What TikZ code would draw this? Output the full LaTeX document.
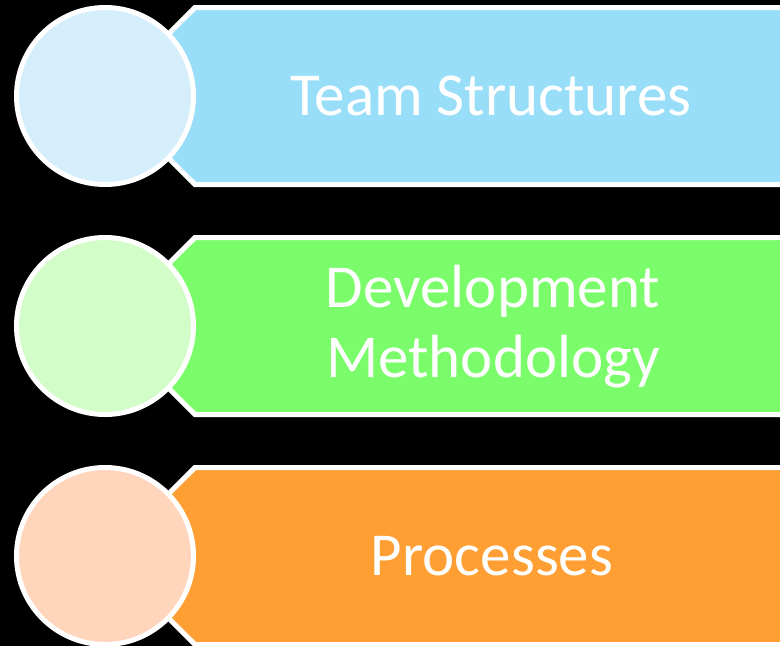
\documentclass[tikz,border=0pt]{standalone}
\usepackage{fontspec}
\setmainfont{Carlito}
\definecolor{bannerA}{RGB}{152,222,248}
\definecolor{circA}{RGB}{212,239,251}
\definecolor{bannerB}{RGB}{123,252,106}
\definecolor{circB}{RGB}{210,253,200}
\definecolor{bannerC}{RGB}{255,158,51}
\definecolor{circC}{RGB}{255,213,188}
\begin{document}
\begin{tikzpicture}[x=1pt,y=-1pt,
  banner/.style={draw=white, line width=5pt, line join=miter},
  disc/.style={circle, draw=white, line width=5pt, minimum size=177pt, inner sep=0pt},
  label/.style={text=white, font=\fontsize{61}{70}\selectfont, align=center}]
\fill[black] (0,0) rectangle (780,646);
\useasboundingbox (0,0) rectangle (780,646);
\clip (0,0) rectangle (780,646);
% row 1
\path[banner, fill=bannerA] (106,96) -- (195,7.5) -- (800,7.5) -- (800,184.5) -- (195,184.5) -- cycle;
\node[disc, fill=circA] (c1) at (105,96) {};
\node[label] (t1) at (491,96) {Team Structures};
% row 2
\path[banner, fill=bannerB] (106,326) -- (195,237.5) -- (800,237.5) -- (800,414.5) -- (195,414.5) -- cycle;
\node[disc, fill=circB] (c2) at (105,326) {};
\node[label] (t2) at (493,327) {Development\\Methodology};
% row 3
\path[banner, fill=bannerC] (106,556) -- (195,467.5) -- (800,467.5) -- (800,644.5) -- (195,644.5) -- cycle;
\node[disc, fill=circC] (c3) at (105,556) {};
\node[label] (t3) at (492,556) {Processes};
\end{tikzpicture}
\end{document}
